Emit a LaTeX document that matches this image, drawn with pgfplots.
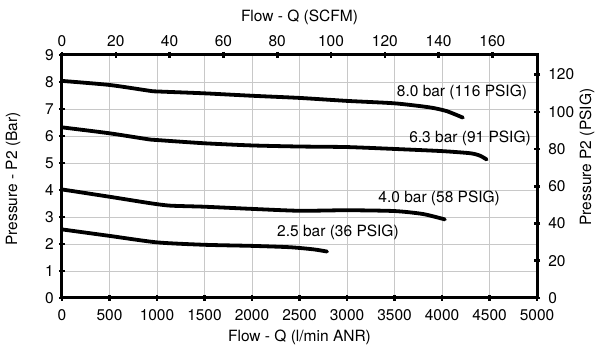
\documentclass[border=0pt]{standalone}
\usepackage{pgfplots}
\pgfplotsset{compat=1.18}
\usepackage{fontspec}
\setmainfont{TeX Gyre Heros}
\definecolor{gridgray}{RGB}{200,200,200}
\begin{document}
\fontsize{15.5}{18}\selectfont
\begin{tikzpicture}
\pgfplotsset{
  common/.style={scale only axis, width=475pt, height=243pt,
    /pgf/number format/assume math mode=true,
    /pgf/number format/1000 sep={},
    ticklabel style={font=\fontsize{15.5}{18}\selectfont},
    label style={font=\fontsize{15.5}{18}\selectfont},
    axis line style={line width=3pt},
    tick style={line width=2.6pt, black},
    major tick length=6pt, tick align=center,
  },
  curve/.style={black, line width=3.8pt, line cap=round, line join=round, smooth, tension=0.4, no markers},
}
\begin{axis}[common,
  xmin=0, xmax=5000, ymin=0, ymax=9,
  xtick={0,500,...,5000}, ytick={0,1,...,9},
  xtick pos=bottom, ytick pos=left,
  xticklabel style={yshift=-3pt},
  grid=major, grid style={gridgray, line width=0.8pt},
  xlabel={Flow - Q (l/min ANR)}, ylabel={Pressure - P2 (Bar)},
  xlabel style={at={(axis description cs:0.5,-0.16)}, anchor=center},
  ylabel style={at={(axis description cs:-0.103,0.49)}, anchor=center},
]
\addplot[curve] coordinates {(0,8.04) (500,7.89) (930,7.67) (1000,7.65) (1500,7.58) (2000,7.49) (2500,7.41) (3000,7.30) (3500,7.21) (3870,7.06) (4050,6.92) (4220,6.68)};
\addplot[curve] coordinates {(0,6.32) (500,6.10) (905,5.88) (1000,5.85) (1500,5.73) (2000,5.65) (2500,5.61) (3000,5.59) (3500,5.52) (4000,5.44) (4300,5.36) (4400,5.27) (4470,5.13)};
\addplot[curve] coordinates {(0,4.02) (500,3.75) (930,3.51) (1140,3.42) (1500,3.38) (2000,3.30) (2500,3.23) (3000,3.25) (3500,3.22) (3800,3.11) (4030,2.91)};
\addplot[curve] coordinates {(0,2.54) (500,2.30) (1000,2.06) (1500,1.97) (2000,1.93) (2400,1.88) (2650,1.80) (2790,1.72)};
\node[anchor=center] at (axis cs:4210,7.63) {8.0 bar (116 PSIG)};
\node[anchor=center] at (axis cs:4295,5.93) {6.3 bar (91 PSIG)};
\node[anchor=center] at (axis cs:3970,3.70) {4.0 bar (58 PSIG)};
\node[anchor=center] at (axis cs:2905,2.44) {2.5 bar (36 PSIG)};
\coordinate (ll) at (rel axis cs:0,0);
\coordinate (ur) at (rel axis cs:1,1);
\end{axis}
\begin{axis}[common,
  xmin=0, xmax=176.57, ymin=0, ymax=130.53,
  axis x line*=top, axis y line*=right,
  xtick={0,20,...,160}, ytick={0,20,...,120},
  yticklabel style={xshift=3pt},
  xlabel={Flow - Q (SCFM)}, ylabel={Pressure P2 (PSIG)},
  xlabel style={at={(axis description cs:0.5,1.156)}, anchor=center},
  ylabel style={at={(axis description cs:1.105,0.58)}, anchor=center, rotate=0},
]
\end{axis}
\pgfresetboundingbox
\path[use as bounding box] ([xshift=-62pt,yshift=-52pt]ll) rectangle ([xshift=63pt,yshift=55pt]ur);
\end{tikzpicture}
\end{document}
